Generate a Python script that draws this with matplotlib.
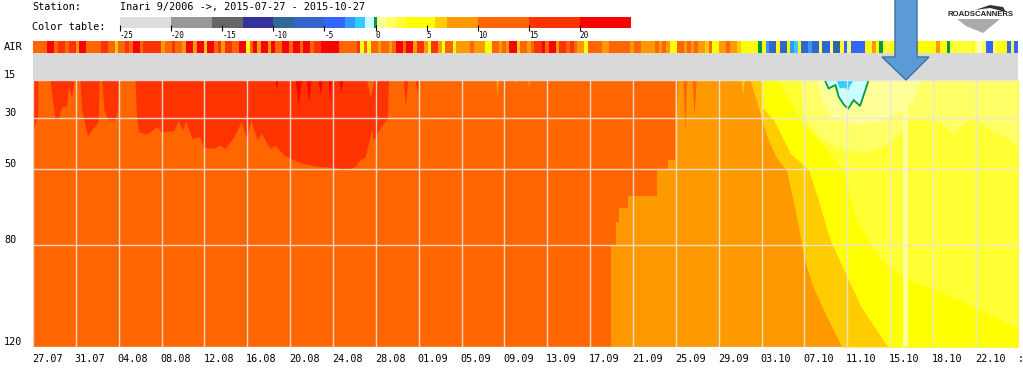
import numpy as np
import matplotlib
matplotlib.use('Agg')
import matplotlib.pyplot as plt
from matplotlib.colors import ListedColormap, BoundaryNorm
from matplotlib.patches import Polygon

W, H = 1023, 371
MONO = 'DejaVu Sans Mono'

# ---- colour table ----
levels = [-25, -20, -16, -13, -10, -8, -5, -3, -2, -1, -0.1, 0.1, 1, 2, 3, 5.8, 7, 10, 15, 20, 25]
colors = ['#dddddd', '#999999', '#666666', '#333399', '#336699', '#3366cc', '#3366ff', '#3399ff',
          '#33ccff', '#ccffff', '#009944', '#ffff99', '#ffff66', '#ffff33', '#ffff00', '#ffcc00',
          '#ff9900', '#ff6600', '#ff3300', '#ff0000']
table_ticks = [-25, -20, -15, -10, -5, 0, 5, 10, 15, 20]

# ---- tick labels ----
# the last one is cut by the picture edge in the source, only ":" is left of it
date_labels = ['27.07', '31.07', '04.08', '08.08', '12.08', '16.08', '20.08', '24.08', '28.08',
               '01.09', '05.09', '09.09', '13.09', '17.09', '21.09', '25.09', '29.09', '03.10',
               '07.10', '11.10', '15.10', '18.10', '22.10', ':']
depth_ticks = [15, 30, 50, 80, 120]

# ---- air temperature, one reading per ~8 h ----
air_temps = [
    12, 12, 12, 12, 22, 22, 12, 17, 17, 12, 17, 17, 8, 22, 22, 12, 12, 12, 12, 17,
    17, 12, 12, 6, 12, 12, 17, 12, 22, 22, 12, 17, 17, 17, 17, 17, 8, 12, 12, 17,
    12, 12, 8, 22, 22, 8, 22, 22, 6, 22, 22, 12, 17, 8, 17, 17, 12, 12, 22, 22,
    4, 12, 22, 8, 22, 22, 8, 22, 12, 12, 22, 22, 12, 22, 22, 12, 22, 22, 12, 17,
    17, 22, 22, 22, 22, 22, 12, 12, 12, 12, 12, 17, 4, 12, 5, 12, 12, 8, 12, 12,
    8, 12, 22, 22, 12, 22, 22, 8, 17, 17, 8, 4, 17, 17, 8, 4, 12, 12, 4, 8,
    8, 8, 8, 12, 8, 8, 8, 4, 4, 12, 12, 8, 12, 8, 22, 22, 6, 12, 12, 8,
    12, 17, 17, 22, 12, 22, 22, 8, 17, 17, 12, 17, 12, 8, 8, 4, 12, 12, 12, 12,
    8, 8, 12, 12, 12, 12, 12, 12, 8, 12, 12, 8, 8, 8, 8, 12, 8, 12, 8, 4,
    4, 12, 12, 8, 12, 8, 12, 8, 8, 6, 12, 4, 4, 8, 8, 12, 8, 8, 6, 4,
    4, 4, 4, 4, 0, 4, -2.5, -7, -7, 4, -7, -7, 4, -2.5, -1.5, 4, -8, -8, -2.5, -7,
    -7, 1.5, -8, -8, 0.5, -9, -9, 2.5, -4, 1.5, -5, -4, -4, -4, 4, 4, 9, 4, 0, 2.5,
    2.5, 4, 4, 4, 4, 4, 4, 4, 9, 4, 4, 4, 4, 4, 8, 4, 4, 0, 2.5, 2.5,
    2.5, 2.5, 2.5, 2.5, 3, 0.5, 0.5, 1.5, -4, -4, 1.5, 4, 4, 4, -5, 2.5, -5,
]

# ---- ground temperature class boundaries: day, depth ----
red_days = [0, 0.45, 0.47, 1.6, 1.75, 2.06, 2.4, 2.7, 3.16, 3.3, 3.6, 3.84, 4.4, 4.56, 5.1, 5.5,
            6.1, 6.2, 6.44, 6.65, 7, 7.7, 7.9, 7.97, 9.56, 9.7, 9.9, 10.66, 11.6, 12, 13.2, 13.6,
            14, 14.3, 14.9, 15.66, 16, 16.9, 17.5, 18, 18.8, 19.5, 20, 20.4, 21, 21.4, 22.2, 22.7,
            23.5, 24.1, 25, 26.6, 28.2, 29.4, 30.2, 30.66, 31.1, 31.75, 31.9, 32.7, 33.2, 33.25, 33.3,
            34.7, 34.9, 35.1, 35.8, 36, 36.1]
red_depths = [34.7, 29, 15, 15, 20.2, 30.7, 30, 25.5, 25.5, 17.6, 21.6, 15, 15, 26.8, 37, 34.7,
              31.4, 15, 15, 26.8, 30.7, 30.7, 26.8, 15, 15, 29.4, 35.3, 36.3, 33.4, 35.3, 35, 30.7,
              34.7, 31, 38, 37.3, 41.5, 41.9, 40.6, 41.9, 37.6, 31.4, 38, 30.7, 38.6, 36, 41.9, 40.6,
              44.5, 45.8, 47.5, 48.9, 49.4, 50.2, 48.9, 46.2, 45.4, 34.7, 38.6, 32.7, 30, 24.2, 15,
              15, 25.5, 15, 15, 20, 15]

orange_days = [54.2, 54.6, 54.95, 55.8, 58.5, 59.5, 60.2, 92.3]
orange_depths = [80.4, 70.8, 65.5, 60.7, 50.4, 46.5, 15, 15]

amber_days = [67.2, 68.1, 68.3, 68.9, 69.7, 70.6, 71.3, 71.9, 72.3, 73.1, 74.4, 75.8]
amber_depths = [15, 27.5, 30.75, 38.6, 45.8, 50.4, 63.6, 76.7, 85.9, 96.4, 108.2, 120]

yellow_days = [68.3, 68.4, 69.4, 70.2, 70.95, 71.9, 72.7, 73.4, 74.7, 76, 77.6, 80.1]
yellow_depths = [15, 26, 30.75, 37.3, 43.9, 47.2, 50.4, 59.6, 78, 89.8, 104.2, 120]

lemon_days = [69.8, 71.9, 74.4, 76.1, 77, 79.4, 82.2, 86.9, 92.3]
lemon_depths = [15, 30.75, 42.6, 51.7, 68.8, 85.9, 93.7, 101.6, 112.8]

pale_days = [71.9, 72.2, 73.8, 75.9, 78.4, 80.3, 81.4, 82.2, 84.2, 85.3, 86.3, 87.2, 88.1, 88.8, 89.7, 91.3, 92.3, 92.3]
pale_depths = [15, 30.1, 38, 42.6, 43.5, 39.9, 35.3, 30.1, 30.1, 32.7, 36, 32.7, 30.1, 31.4, 34.7, 38, 41.2, 15]

paler_days = [73.4, 74, 74.9, 77.2, 79.4, 81.3, 82.6, 83.2]
paler_depths = [15, 23.5, 30.1, 32.5, 31.4, 27.5, 22.2, 15]

frost_days = [74.2, 74.55, 75.2, 75.5, 76, 76.4, 76.9, 77.5, 78, 78.3]
frost_depths = [15, 18.3, 17, 21.6, 24.8, 26.2, 22.9, 25.2, 18.9, 15]

ice_days = [75.3, 75.6, 76, 76.4, 76.6, 76.9]
ice_depths = [15, 18.3, 18, 19, 17, 15]

# narrow tongues hanging from the top: left day, right day, deepest depth, class temperature
spike_left = [22.7, 24.6, 25.66, 26.75, 27.7, 28.7, 31.3, 43.4, 45.2, 46.4, 60.2, 60.95, 61.8, 66.4]
spike_right = [23, 25.2, 26.1, 27.16, 28, 29.1, 32, 43.7, 45.4, 46.6, 60.5, 61.3, 62.2, 66.7]
spike_depth = [18.9, 25.5, 24.2, 20.9, 24.2, 20.2, 22, 22, 16.5, 19, 30, 36.6, 29.4, 21]
spike_temp = [22, 22, 22, 22, 22, 22, 12, 8, 8, 8, 12, 12, 12, 6]

warm_stripe = (81.55, 81.95)

cmap = ListedColormap(colors)
norm = BoundaryNorm(levels, len(colors))
DAY_MAX = 92.3
tick_pos = np.arange(len(date_labels)) * 4.016


def shade(temp):
    return cmap(norm(temp))


def px_axes(left, top, right, bottom):
    return fig.add_axes([left / W, 1 - bottom / H, (right - left) / W, (bottom - top) / H])


def fill_right(ax, days, depths, temp):
    ax.fill_betweenx(depths, days, DAY_MAX, color=shade(temp), lw=0)


fig = plt.figure(figsize=(W / 100, H / 100), dpi=100)

# ---- header ----
fig.text(32 / W, 1 - 7 / H, 'Station:', family=MONO, fontsize=7.3, va='center')
fig.text(120 / W, 1 - 7 / H, 'Inari 9/2006 ->, 2015-07-27 - 2015-10-27', family=MONO, fontsize=7.3, va='center')
fig.text(32 / W, 1 - 27 / H, 'Color table:', family=MONO, fontsize=7.3, va='center')

ax_table = px_axes(120, 17, 631, 28)
ax_table.pcolormesh(levels, [0, 1], (np.array(levels[:-1]) + np.array(levels[1:]))[None, :] / 2,
                    cmap=cmap, norm=norm)
ax_table.set_xlim(-25, 25)
ax_table.set_yticks([])
ax_table.set_xticks(table_ticks)
ax_table.set_xticklabels(table_ticks, family=MONO, fontsize=5.5, ha='left')
ax_table.tick_params(axis='x', direction='inout', length=5, width=0.8, pad=0)
for spine in ax_table.spines.values():
    spine.set_visible(False)

# ---- air strip and empty band ----
ax_air = px_axes(33, 41, 1018, 53)
ax_air.pcolormesh(np.linspace(0, DAY_MAX, len(air_temps) + 1), [0, 1], np.array(air_temps)[None, :],
                  cmap=cmap, norm=norm)
ax_air.axis('off')
fig.text(4 / W, 1 - 47 / H, 'AIR', family=MONO, fontsize=7.5, va='center')

ax_gap = px_axes(33, 53, 1018, 80)
ax_gap.set_facecolor('#d9d9d9')
ax_gap.set_xticks([])
ax_gap.set_yticks([])
for spine in ax_gap.spines.values():
    spine.set_visible(False)

# ---- ground temperature ----
ax = px_axes(33, 80, 1018, 347)
ax.set_xlim(0, DAY_MAX)
ax.set_ylim(120, 15)
ax.set_facecolor(shade(12))

ax.fill_between(red_days, 15, red_depths, color=shade(17), lw=0)
ax.fill_between(orange_days, orange_depths, 120, step='post', color=shade(8), lw=0)
fill_right(ax, amber_days, amber_depths, 6)
fill_right(ax, yellow_days, yellow_depths, 4)
fill_right(ax, lemon_days, lemon_depths, 2.5)
ax.fill(pale_days, pale_depths, color=shade(1.5), lw=0)
ax.fill(paler_days, paler_depths, color=shade(0.5), lw=0)
ax.axvspan(*warm_stripe, color=shade(0.5), lw=0)

for left, right, depth, temp in zip(spike_left, spike_right, spike_depth, spike_temp):
    ax.fill([left, (left + right) / 2, right], [15, depth, 15], color=shade(temp), lw=0)

ax.fill(frost_days, frost_depths, facecolor=shade(-0.5), edgecolor=shade(0), lw=1.3)
ax.fill(ice_days, ice_depths, color=shade(-1.5), lw=0)

ax.set_xticks(tick_pos[tick_pos < DAY_MAX])
ax.set_yticks(depth_ticks)
ax.grid(True, color='#e6e6e6', lw=1, alpha=0.9)
ax.tick_params(length=0, labelbottom=False, labelleft=False)
for spine in ax.spines.values():
    spine.set_visible(False)
ax.set_axisbelow(False)

for d in depth_ticks:
    ax.annotate(str(d), xy=(0, d), xycoords=('axes fraction', 'data'), xytext=(-29, 5),
                textcoords='offset pixels', family=MONO, fontsize=7.3, va='center', ha='left',
                annotation_clip=False)
for pos, label in zip(tick_pos, date_labels):
    ax.annotate(label, xy=(pos, 120), xycoords='data', xytext=(-1, -12), textcoords='offset pixels',
                family=MONO, fontsize=7.3, va='center', ha='left', annotation_clip=False)


# ---- arrow and logo, positioned in picture pixels ----
def to_fig(points):
    return [(x / W, 1 - y / H) for x, y in points]


arrow = [(895, -2), (917, -2), (917, 57), (929, 57), (906, 80), (882, 57), (895, 57)]
fig.add_artist(Polygon(to_fig(arrow), closed=True, transform=fig.transFigure, facecolor='#5b9bd5',
                       edgecolor='#41719c', lw=1, zorder=5))
fig.add_artist(Polygon(to_fig([(975, 10), (990, 5), (1003, 7), (1006, 12), (990, 8)]), closed=True,
                       transform=fig.transFigure, facecolor='#333333', lw=0, zorder=4))
fig.add_artist(Polygon(to_fig([(957, 19), (1000, 19), (983, 33), (966, 26)]), closed=True,
                       transform=fig.transFigure, facecolor='#aaaaaa', lw=0, zorder=4))
fig.text(981 / W, 1 - 15 / H, 'ROADSCANNERS', family='Liberation Sans', fontweight='bold', fontsize=5.6,
         ha='center', va='center', color='#222222', zorder=6)

fig.savefig('out.png', dpi=100)
